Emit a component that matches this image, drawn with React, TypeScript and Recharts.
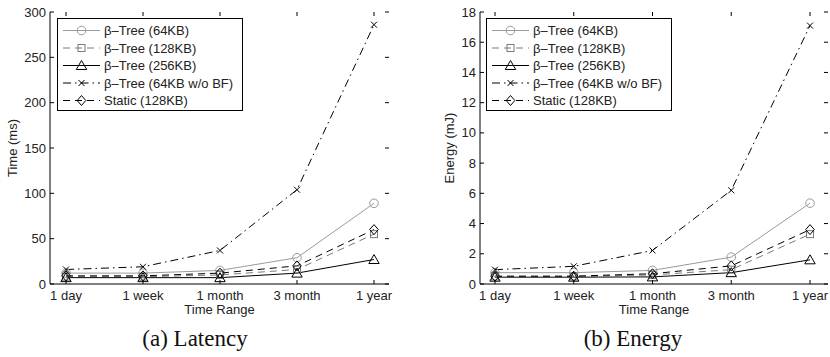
import React from 'react';
import { LineChart, Line, XAxis, YAxis } from 'recharts';

const ranges = ['1 day', '1 week', '1 month', '3 month', '1 year'];

// latency in ms
const timeTree64 = [12, 12, 15, 29, 89];
const timeTree128 = [8, 8, 10, 16, 55];
const timeTree256 = [7, 7, 7, 12, 27];
const timeTree64NoBF = [16, 19, 37, 104, 286];
const timeStatic128 = [9, 9, 12, 20, 60];

// energy in mJ
const energyTree64 = [0.75, 0.75, 0.9, 1.78, 5.35];
const energyTree128 = [0.5, 0.5, 0.6, 0.95, 3.3];
const energyTree256 = [0.45, 0.45, 0.47, 0.75, 1.6];
const energyTree64NoBF = [0.95, 1.17, 2.22, 6.2, 17.1];
const energyStatic128 = [0.52, 0.52, 0.68, 1.2, 3.6];

const timeTicks = [0, 50, 100, 150, 200, 250, 300];
const energyTicks = [0, 2, 4, 6, 8, 10, 12, 14, 16, 18];

const seriesNames = [
  'β–Tree (64KB)',
  'β–Tree (128KB)',
  'β–Tree (256KB)',
  'β–Tree (64KB w/o BF)',
  'Static (128KB)',
];

type Kind = 'circle' | 'square' | 'triangle' | 'cross' | 'diamond';
type Series = { key: string; name: string; color: string; dash?: string; kind: Kind };

const series: Series[] = [
  { key: 's64', name: seriesNames[0], color: '#9a9a9a', kind: 'circle' },
  { key: 's128', name: seriesNames[1], color: '#7a7a7a', dash: '7 5', kind: 'square' },
  { key: 's256', name: seriesNames[2], color: '#000', kind: 'triangle' },
  { key: 'nobf', name: seriesNames[3], color: '#000', dash: '8 4 1.5 4', kind: 'cross' },
  { key: 'stat', name: seriesNames[4], color: '#000', dash: '7 5', kind: 'diamond' },
];

const timeData = ranges.map((r, i) => ({
  range: r,
  s64: timeTree64[i],
  s128: timeTree128[i],
  s256: timeTree256[i],
  nobf: timeTree64NoBF[i],
  stat: timeStatic128[i],
}));

const energyData = ranges.map((r, i) => ({
  range: r,
  s64: energyTree64[i],
  s128: energyTree128[i],
  s256: energyTree256[i],
  nobf: energyTree64NoBF[i],
  stat: energyStatic128[i],
}));

const FONT = '"Liberation Sans", Arial, Helvetica, sans-serif';
const W = 415;
const H = 357;

function Marker({ cx, cy, kind, color }: { cx: number; cy: number; kind: Kind; color: string }) {
  const p = { fill: 'none', stroke: color, strokeWidth: 1 };
  switch (kind) {
    case 'circle':
      return <circle cx={cx} cy={cy} r={4.3} {...p} />;
    case 'square':
      return <rect x={cx - 3.5} y={cy - 3.5} width={7} height={7} {...p} />;
    case 'triangle':
      return <path d={`M${cx},${cy - 5} L${cx + 5.2},${cy + 4} L${cx - 5.2},${cy + 4} Z`} {...p} />;
    case 'cross':
      return <path d={`M${cx - 3},${cy - 3} L${cx + 3},${cy + 3} M${cx + 3},${cy - 3} L${cx - 3},${cy + 3}`} {...p} />;
    default:
      return <path d={`M${cx},${cy - 5} L${cx + 4.3},${cy} L${cx},${cy + 5} L${cx - 4.3},${cy} Z`} {...p} />;
  }
}

type Box = { left: number; right: number; top: number; bottom: number };

function Legend2({ x, y }: { x: number; y: number }) {
  return (
    <svg style={{ position: 'absolute', left: x, top: y }} width={187} height={94}>
      <rect x={0.5} y={0.5} width={185} height={92} fill="#fff" stroke="#000" />
      {series.map((s, i) => {
        const cy = 12.5 + i * 17.5;
        return (
          <g key={s.key}>
            <line x1={6} x2={43} y1={cy} y2={cy} stroke={s.color} strokeDasharray={s.dash} />
            <Marker cx={24.5} cy={cy} kind={s.kind} color={s.color} />
            <text x={47} y={cy} dy="0.35em" fontFamily={FONT} fontSize={13} fill="#222">
              {s.name}
            </text>
          </g>
        );
      })}
    </svg>
  );
}

type PanelProps = {
  data: any[];
  ticks: number[];
  box: Box;
  yLabel: string;
  yLabelX: number;
  padL: number;
  padR: number;
};

function Panel({ data, ticks, box, yLabel, yLabelX, padL, padR }: PanelProps) {
  const xTick = (p: any) => (
    <g>
      <line x1={p.x} x2={p.x} y1={box.bottom} y2={box.bottom - 4} stroke="#000" />
      <line x1={p.x} x2={p.x} y1={box.top} y2={box.top + 4} stroke="#000" />
      <text x={p.x} y={box.bottom + 16} textAnchor="middle" fontFamily={FONT} fontSize={13} fill="#222">
        {p.payload.value}
      </text>
    </g>
  );
  const yTick = (p: any) => (
    <g>
      <line x1={box.left} x2={box.left + 4} y1={p.y} y2={p.y} stroke="#000" />
      <line x1={box.right} x2={box.right - 4} y1={p.y} y2={p.y} stroke="#000" />
      <text x={box.left - 4} y={p.y} dy="0.35em" textAnchor="end" fontFamily={FONT} fontSize={13} fill="#222">
        {p.payload.value}
      </text>
    </g>
  );
  const cx = (box.left + box.right) / 2;
  const cy = (box.top + box.bottom) / 2;
  return (
    <LineChart
      width={W}
      height={H}
      data={data}
      margin={{ top: box.top, left: 0, right: W - box.right, bottom: H - box.bottom - 30 }}
    >
      <XAxis
        dataKey="range"
        interval={0}
        height={30}
        padding={{ left: padL, right: padR }}
        tickLine={false}
        axisLine={{ stroke: '#000' }}
        tick={xTick}
        label={() => (
          <text x={cx} y={box.bottom + 30} textAnchor="middle" fontFamily={FONT} fontSize={13} fill="#222">
            Time Range
          </text>
        )}
      />
      <XAxis xAxisId="top" dataKey="range" orientation="top" height={0} tick={false} tickLine={false} axisLine={{ stroke: '#000' }} />
      <YAxis
        type="number"
        width={box.left}
        domain={[0, ticks[ticks.length - 1]]}
        ticks={ticks}
        interval={0}
        tickLine={false}
        axisLine={{ stroke: '#000' }}
        tick={yTick}
        label={() => (
          <text
            x={yLabelX}
            y={cy}
            textAnchor="middle"
            transform={`rotate(-90 ${yLabelX} ${cy})`}
            dy="0.35em"
            fontFamily={FONT}
            fontSize={13}
            fill="#222"
          >
            {yLabel}
          </text>
        )}
      />
      <YAxis
        yAxisId="right"
        orientation="right"
        type="number"
        width={0}
        domain={[0, ticks[ticks.length - 1]]}
        tick={false}
        tickLine={false}
        axisLine={{ stroke: '#000' }}
      />
      {series.map((s) => (
        <Line
          key={s.key}
          dataKey={s.key}
          name={s.name}
          stroke={s.color}
          strokeWidth={1}
          strokeDasharray={s.dash}
          isAnimationActive={false}
          dot={(p: any) => <Marker key={`${s.key}-${p.index}`} cx={p.cx} cy={p.cy} kind={s.kind} color={s.color} />}
          activeDot={false}
        />
      ))}
    </LineChart>
  );
}

export default function App() {
  const captionStyle: React.CSSProperties = {
    position: 'absolute',
    top: 326,
    fontFamily: '"Liberation Serif", "Times New Roman", serif',
    fontSize: 23,
    color: '#111',
    transform: 'translateX(-50%)',
    whiteSpace: 'nowrap',
  };
  return (
    <div style={{ position: 'absolute', left: 0, top: 0, width: 830, height: 357, background: '#fff' }}>
      <div style={{ position: 'absolute', left: 0, top: 0 }}>
        <Panel
          data={timeData}
          ticks={timeTicks}
          box={{ left: 50, right: 389, top: 12, bottom: 284 }}
          yLabel="Time (ms)"
          yLabelX={12}
          padL={16}
          padR={15}
        />
        <Legend2 x={57} y={18} />
      </div>
      <div style={{ position: 'absolute', left: 415, top: 0 }}>
        <Panel
          data={energyData}
          ticks={energyTicks}
          box={{ left: 65, right: 413, top: 12, bottom: 284 }}
          yLabel="Energy (mJ)"
          yLabelX={34}
          padL={15}
          padR={18}
        />
        <Legend2 x={71} y={18} />
      </div>
      <div style={{ ...captionStyle, left: 195 }}>(a) Latency</div>
      <div style={{ ...captionStyle, left: 633 }}>(b) Energy</div>
    </div>
  );
}
